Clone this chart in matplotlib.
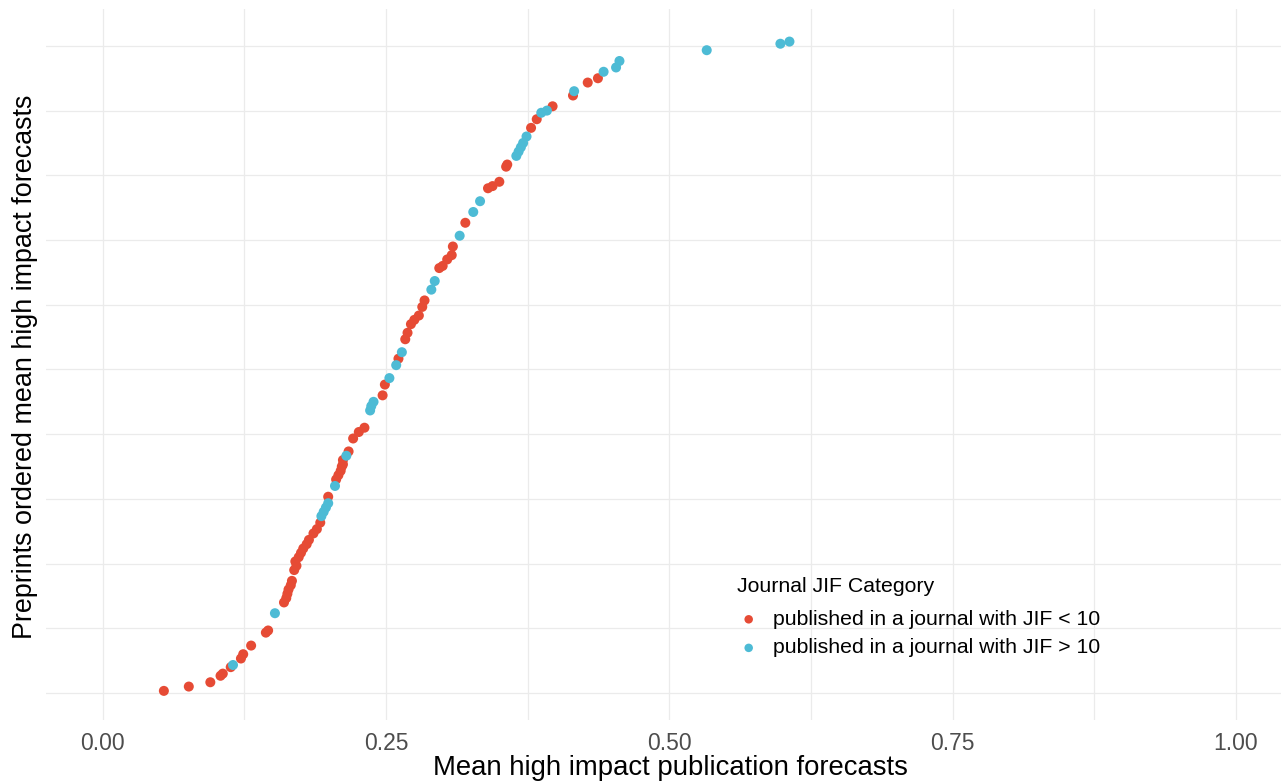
import matplotlib
matplotlib.use("Agg")
import matplotlib.pyplot as plt
import numpy as np

plt.rcParams["font.family"] = ["Liberation Sans", "DejaVu Sans"]

# mean forecast per preprint (sorted), rank among all preprints, JIF category
mean_forecast = [
    0.054, 0.076, 0.095, 0.104, 0.106, 0.113, 0.115, 0.122, 0.124, 0.131,
    0.144, 0.146, 0.152, 0.160, 0.162, 0.163, 0.164, 0.166, 0.167, 0.169,
    0.170, 0.171, 0.173, 0.175, 0.177, 0.180, 0.182, 0.186, 0.189, 0.192,
    0.193, 0.195, 0.197, 0.199, 0.199, 0.205, 0.206, 0.208, 0.210, 0.211,
    0.212, 0.212, 0.215, 0.217, 0.221, 0.226, 0.231, 0.236, 0.237, 0.239,
    0.247, 0.249, 0.253, 0.259, 0.261, 0.264, 0.267, 0.269, 0.272, 0.275,
    0.279, 0.282, 0.284, 0.290, 0.293, 0.297, 0.300, 0.304, 0.308, 0.309,
    0.315, 0.320, 0.327, 0.333, 0.340, 0.344, 0.350, 0.356, 0.357, 0.365,
    0.367, 0.369, 0.371, 0.374, 0.378, 0.383, 0.387, 0.392, 0.397, 0.415,
    0.416, 0.428, 0.437, 0.442, 0.453, 0.456, 0.533, 0.598, 0.606,
]
preprint_rank = [
    1, 3, 5, 8, 9, 12, 13, 16, 18, 22,
    28, 29, 37, 42, 44, 46, 48, 50, 52, 57,
    61, 59, 63, 65, 67, 69, 71, 74, 76, 79,
    82, 84, 86, 88, 91, 96, 99, 101, 103, 105,
    106, 108, 110, 112, 118, 121, 123, 131, 133, 135,
    138, 143, 146, 152, 155, 158, 164, 167, 171, 173,
    175, 179, 182, 187, 191, 197, 198, 201, 203, 207,
    212, 218, 223, 228, 234, 235, 237, 244, 245, 249,
    251, 253, 255, 258, 262, 266, 269, 270, 272, 277,
    279, 283, 285, 288, 290, 293, 298, 301, 302,
]
# 0 = JIF < 10, 1 = JIF > 10
jif_high = [
    0, 0, 0, 0, 0, 0, 1, 0, 0, 0,
    0, 0, 1, 0, 0, 0, 0, 0, 0, 0,
    0, 0, 0, 0, 0, 0, 0, 0, 0, 0,
    1, 1, 1, 1, 0, 1, 0, 0, 0, 0,
    0, 0, 1, 0, 0, 0, 0, 1, 1, 1,
    0, 0, 1, 1, 0, 1, 0, 0, 0, 0,
    0, 0, 0, 1, 1, 0, 0, 0, 0, 0,
    1, 0, 1, 1, 0, 0, 0, 0, 0, 1,
    1, 1, 1, 1, 0, 0, 1, 1, 0, 0,
    1, 0, 0, 1, 1, 1, 1, 1, 1,
]
categories = ["published in a journal with JIF < 10",
              "published in a journal with JIF > 10"]
colors = ["#E64B35", "#4DBBD5"]

x = np.array(mean_forecast)
y = np.array(preprint_rank)
c = np.array(jif_high)

W, H = 1281, 782
fig = plt.figure(figsize=(W / 100, H / 100), dpi=100)
# panel in pixels: left 46, right beyond the picture, top 9, bottom 720
ax = fig.add_axes([46 / W, 1 - 720 / H, 1 - 46 / W, (720 - 9) / H])

for k in (0, 1):
    m = c == k
    ax.scatter(x[m], y[m], s=52, color=colors[k], edgecolors="none",
               label=categories[k], zorder=3)

ax.set_xlim(-0.05, (W - 103) / 1133)
ax.set_ylim(-12.5, 317.1)
ax.set_xticks([0, 0.25, 0.5, 0.75, 1.0])
ax.set_xticklabels(["0.00", "0.25", "0.50", "0.75", "1.00"])
ax.set_xticks(np.arange(0.125, 1.0, 0.25), minor=True)
ax.set_yticks(np.arange(0, 301, 30))
ax.set_yticklabels([])
ax.tick_params(axis="both", which="both", length=0)
ax.tick_params(axis="x", labelsize=16.5, labelcolor="#4D4D4D", pad=8.5)
ax.grid(True, which="both", color="#EBEBEB", linewidth=0.9)
ax.set_axisbelow(True)
for s in ax.spines.values():
    s.set_visible(False)

fig.text(670 / W, 1 - 768 / H, "Mean high impact publication forecasts",
         ha="center", va="center", fontsize=19.8)
fig.text(25 / W, 1 - 367 / H, "Preprints ordered mean high impact forecasts",
         ha="center", va="center", rotation=90, fontsize=19.4)

leg = ax.legend(title="Journal JIF Category", loc="upper left",
                bbox_to_anchor=(737 / W, 1 - 577 / H),
                bbox_transform=fig.transFigure, frameon=False,
                fontsize=15.3, title_fontsize=15.3, alignment="left",
                borderpad=0, borderaxespad=0, handlelength=1.1,
                handletextpad=0.6, labelspacing=0.45, markerscale=0.85)
leg._legend_box.sep = 10

fig.savefig("out.png", dpi=100)
